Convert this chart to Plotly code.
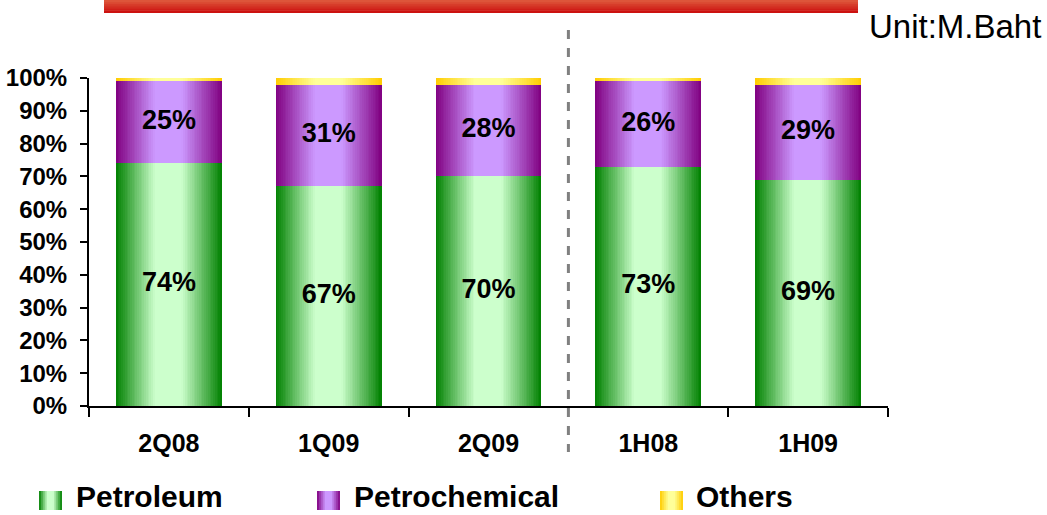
import plotly.graph_objects as go

# ---- data ----
periods = ["2Q08", "1Q09", "2Q09", "1H08", "1H09"]
totals_mbaht = [73740, 26076, 40295, 134997, 66371]
petroleum = [74, 67, 70, 73, 69]
petrochemical = [25, 31, 28, 26, 29]
others = [1, 2, 2, 1, 2]
pct_ticks = list(range(0, 101, 10))

series = [
    ("Petroleum", petroleum, (0x00, 0x80, 0x00), (0xCC, 0xFF, 0xCC)),
    ("Petrochemical", petrochemical, (0x80, 0x00, 0x80), (0xCC, 0x99, 0xFF)),
    ("Others", others, (0xFF, 0xCC, 0x00), (0xFF, 0xFF, 0x99)),
]

FONT = "Arial, Liberation Sans, sans-serif"

# plot-area geometry in pixels
W, H = 1047, 515
L, R, T, B = 89, 888, 78, 406


def px_x(p):
    return (p - L) / (R - L)


def px_y(p):
    return (B - p) / (B - T)


def mix(dark, light, f):
    return "rgb(%d,%d,%d)" % tuple(round(d + (l - d) * f) for d, l in zip(dark, light))


def shade(t):
    """Horizontal cylinder-like shading: dark edges ramping to a light centre band."""
    if t < 0.37:
        return t / 0.37
    if t <= 0.62:
        return 1.0
    return 1.0 - (t - 0.62) / 0.38


fig = go.Figure()

BAR_W = 0.663
N = 60
strip = BAR_W / N

bases = [0] * len(periods)
for name, vals, dark, light in series:
    for i in range(N):
        t = (i + 0.5) / N
        fig.add_trace(go.Bar(
            x=periods, y=vals, base=list(bases),
            offset=-BAR_W / 2 + i * strip,
            width=strip * (2.0 if i < N - 1 else 1.0),
            marker=dict(color=mix(dark, light, shade(t)), line=dict(width=0)),
            showlegend=False, hoverinfo="skip",
        ))
    if name != "Others":
        fig.add_trace(go.Scatter(
            x=periods, y=[b + v / 2 for b, v in zip(bases, vals)],
            mode="text", text=[f"{v}%" for v in vals],
            textfont=dict(family=FONT, size=27, color="black", weight="bold"),
            cliponaxis=False, showlegend=False, hoverinfo="skip",
        ))
    bases = [b + v for b, v in zip(bases, vals)]

# period totals above each bar
fig.add_trace(go.Scatter(
    x=periods, y=[110] * len(periods), mode="text",
    text=[f"{v:,}" for v in totals_mbaht],
    textfont=dict(family=FONT, size=26, color="black", weight="bold"),
    cliponaxis=False, showlegend=False, hoverinfo="skip",
))

shapes = []

# red banner across the top
for k in range(6):
    y0 = 13 - k * 13 / 6
    y1 = 13 - (k + 1) * 13 / 6
    c = mix((0xCC, 0x12, 0x10), (0xDD, 0x55, 0x3A), k / 5)
    shapes.append(dict(type="rect", xref="paper", yref="paper",
                       x0=px_x(104), x1=px_x(858), y0=px_y(y0), y1=px_y(y1) + 0.002,
                       fillcolor=c, line=dict(width=0), layer="above"))

# dashed divider between quarters and half-years
shapes.append(dict(type="line", xref="x", yref="paper", x0=2.5, x1=2.5,
                   y0=px_y(30), y1=px_y(452),
                   line=dict(color="#808080", width=3, dash="dash")))

# legend swatches
legend_items = [("Petroleum", 39, 74), ("Petrochemical", 317, 352), ("Others", 660, 694)]
annotations = []
for (name, sx, tx), (_, _, dark, light) in zip(legend_items, series):
    sw = 23
    ns = 12
    for j in range(ns):
        t = (j + 0.5) / ns
        shapes.append(dict(type="rect", xref="paper", yref="paper",
                           x0=px_x(sx + j * sw / ns),
                           x1=px_x(sx + (j + 1.5) * sw / ns if j < ns - 1 else sx + sw),
                           y0=px_y(510), y1=px_y(491),
                           fillcolor=mix(dark, light, shade(t)), line=dict(width=0)))
    annotations.append(dict(xref="paper", yref="paper", x=px_x(tx), y=px_y(515),
                            xanchor="left", yanchor="bottom", showarrow=False,
                            text=name,
                            font=dict(family=FONT, size=30, color="black", weight="bold")))

annotations.append(dict(xref="paper", yref="paper", x=px_x(1043), y=px_y(27),
                        xanchor="right", yanchor="middle", showarrow=False, text="Unit:M.Baht",
                        font=dict(family=FONT, size=33, color="black")))

fig.update_layout(
    width=W, height=H,
    margin=dict(l=L, r=W - R, t=T, b=H - B, pad=0, autoexpand=False),
    barmode="overlay", bargap=0,
    plot_bgcolor="white", paper_bgcolor="white",
    shapes=shapes, annotations=annotations,
    showlegend=False,
    xaxis=dict(type="category", range=[-0.5, 4.5], showline=True, linecolor="black",
               linewidth=2, ticks="outside", tickson="boundaries", ticklen=9,
               tickwidth=2, tickcolor="black", showgrid=False, zeroline=False,
               ticklabelstandoff=14, automargin=False,
               tickfont=dict(family=FONT, size=25, color="black", weight="bold")),
    yaxis=dict(range=[0, 100], tickmode="array", tickvals=pct_ticks,
               ticktext=[f"{v}%" for v in pct_ticks],
               showline=True, linecolor="black", linewidth=2, ticks="outside",
               ticklen=7, tickwidth=2, tickcolor="black", showgrid=False,
               zeroline=False, ticklabelstandoff=8, automargin=False,
               tickfont=dict(family=FONT, size=24, color="black", weight="bold")),
)

fig.write_html("out.html")
